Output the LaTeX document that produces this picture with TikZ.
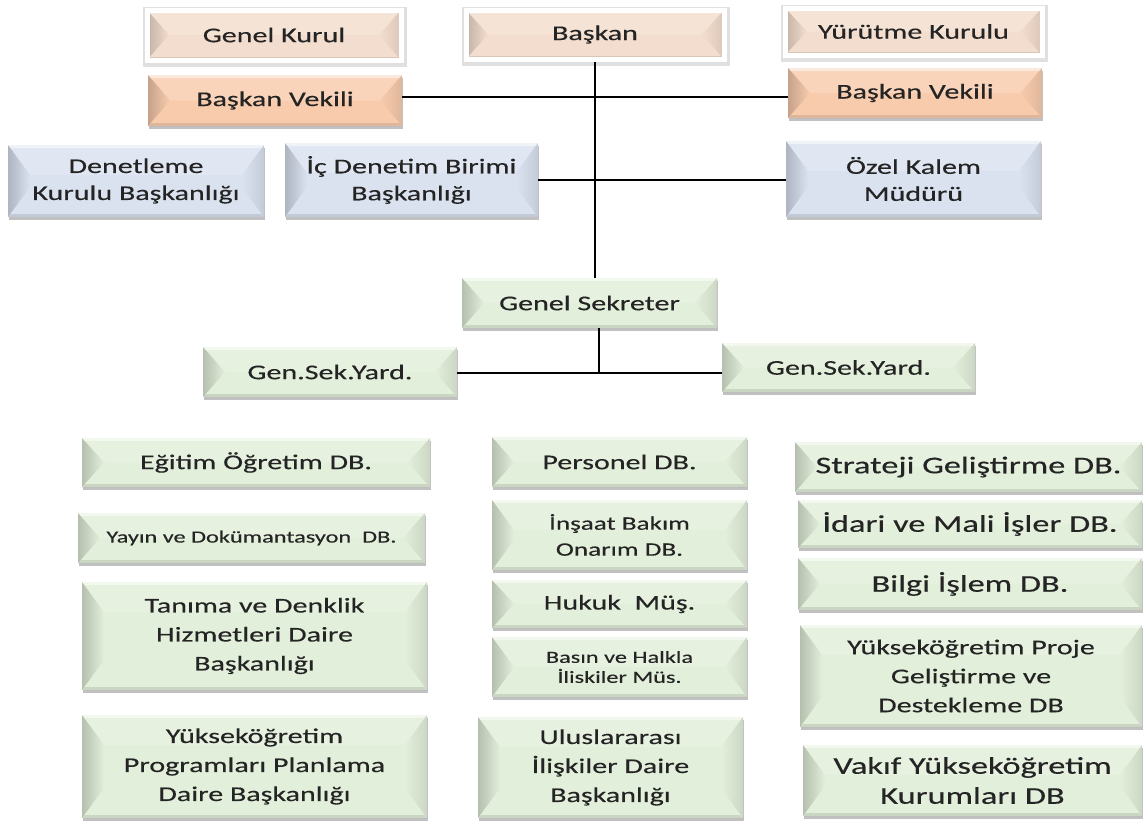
\documentclass[tikz,border=0pt]{standalone}
\usepackage{fontspec}
\setmainfont{Carlito}[FakeStretch=1.43,FakeBold=0.3]
\usetikzlibrary{shadows,calc}
\definecolor{cpeach}{HTML}{F3DDCE}
\definecolor{corange}{HTML}{F8CBAD}
\definecolor{cblue}{HTML}{DAE2F0}
\definecolor{cgreen}{HTML}{E2EFDA}
\definecolor{txt}{HTML}{242424}
\newcommand\bevelfx[1]{%
 \pgfpointanchor{path picture bounding box}{south west}\pgfgetlastxy\bxa\bya
 \pgfpointanchor{path picture bounding box}{north east}\pgfgetlastxy\bxb\byb
 \pgfmathsetlengthmacro\bdy{min((\byb-\bya)/2,30pt)}%
 \fill[white,opacity=.18] (\bxa,\byb) -- (\bxb,\byb) -- (\bxb-22pt,\byb-\bdy) -- (\bxa+22pt,\byb-\bdy) -- cycle;
 \shade[left color=#1!80!black, right color=#1] (\bxa,\bya) -- (\bxa+22pt,\bya+\bdy) -- (\bxa+22pt,\byb-\bdy) -- (\bxa,\byb) -- cycle;
 \shade[left color=#1, right color=#1!90!black] (\bxb,\bya) -- (\bxb-22pt,\bya+\bdy) -- (\bxb-22pt,\byb-\bdy) -- (\bxb,\byb) -- cycle;
 \fill[black,opacity=.10] (\bxa,\bya) -- (\bxb,\bya) -- (\bxb-3pt,\bya+3pt) -- (\bxa+3pt,\bya+3pt) -- cycle;
 \fill[white,opacity=.5] (\bxa,\byb) -- (\bxb,\byb) -- (\bxb-3pt,\byb-3pt) -- (\bxa+3pt,\byb-3pt) -- cycle;
}
\tikzset{
 box/.style={rectangle, inner sep=0pt, align=center, text=txt,
   font=\fontsize{21}{29}\selectfont},
 bev/.style={fill=#1, path picture={\bevelfx{#1}}},
 shad/.style={drop shadow={shadow xshift=1.2pt, shadow yshift=-2.6pt, opacity=.3, fill=black!80}},
 framebox/.style={box, bev=cpeach, draw=white, line width=5pt,
   preaction={draw=black, draw opacity=.12, line width=10pt,
     transform canvas={xshift=1pt,yshift=-1.5pt}}},
 orbox/.style={box, bev=corange, shad},
 blbox/.style={box, bev=cblue, shad},
 grbox/.style={box, bev=cgreen, shad},
 conn/.style={draw=black, line width=1.3pt},
 big/.style={font=\fontsize{24}{30}\selectfont},
 small/.style={font=\fontsize{17}{20}\selectfont},
 mid/.style={font=\fontsize{19}{26}\selectfont},
 two/.style={font=\fontsize{21}{27}\selectfont},
}
\newcommand\bx[7]{%
 \pgfmathsetmacro\bw{#5-#3}\pgfmathsetmacro\bh{#6-#4}%
 \pgfmathsetmacro\bcx{(#3+#5)/2}\pgfmathsetmacro\bcy{(#4+#6)/2}%
 \node[#2, minimum width=\bw pt, minimum height=\bh pt] (#1) at (\bcx,\bcy) {#7};}
\begin{document}
\begin{tikzpicture}[x=1pt,y=-1pt]
\useasboundingbox (0,0) rectangle (1144,825);
\fill[white] (0,0) rectangle (1144,825);
% top row
\bx{gk}{framebox}{147}{10}{401}{60}{Genel Kurul}
\bx{bsk}{framebox}{466}{10}{724}{59}{Başkan}
\bx{yk}{framebox}{785}{8}{1042}{55}{Yürütme Kurulu}
% vice presidents
\bx{bvl}{orbox}{148}{75}{402}{126}{Başkan Vekili}
\bx{bvr}{orbox}{788}{68}{1042}{118}{Başkan Vekili}
% blue row
\bx{den}{blbox,two}{8}{145}{264}{217}{Denetleme\\Kurulu Başkanlığı}
\bx{ic}{blbox,two}{285}{143}{538}{217}{İç Denetim Birimi\\Başkanlığı}
\bx{ozel}{blbox,two}{786}{141}{1041}{217}{Özel Kalem\\Müdürü}
% secretary
\bx{gs}{grbox}{462}{278}{717}{328}{Genel Sekreter}
\bx{gsyl}{grbox}{203}{347}{457}{397}{Gen.Sek.Yard.}
\bx{gsyr}{grbox}{722}{343}{975}{392}{Gen.Sek.Yard.}
% left column
\bx{egt}{grbox}{82}{438}{430}{487}{Eğitim Öğretim DB.}
\bx{yay}{grbox,small}{78}{513}{425}{563}{Yayın ve Dokümantasyon\ \ DB.}
\bx{tan}{grbox}{82}{582}{427}{690}{Tanıma ve Denklik\\Hizmetleri Daire\\Başkanlığı}
\bx{ykp}{grbox}{82}{715}{427}{818}{Yükseköğretim\\Programları Planlama\\Daire Başkanlığı}
% middle column
\bx{per}{grbox}{492}{437}{747}{487}{Personel DB.}
\bx{ins}{grbox,mid}{492}{500}{747}{570}{İnşaat Bakım\\Onarım DB.}
\bx{huk}{grbox}{492}{580}{747}{628}{Hukuk\ \ Müş.}
\bx{bas}{grbox,small}{492}{637}{747}{697}{Basın ve Halkla\\İliskiler Müs.}
\bx{ulu}{grbox}{478}{717}{743}{818}{Uluslararası\\İlişkiler Daire\\Başkanlığı}
% right column
\bx{str}{grbox,big}{795}{442}{1142}{492}{Strateji Geliştirme DB.}
\bx{ida}{grbox,big}{798}{500}{1142}{548}{İdari ve Mali İşler DB.}
\bx{bil}{grbox,big}{798}{558}{1142}{610}{Bilgi İşlem DB.}
\bx{ypr}{grbox}{800}{625}{1142}{727}{Yükseköğretim Proje\\Geliştirme ve\\Destekleme DB}
\bx{vak}{grbox,big}{803}{745}{1142}{816}{Vakıf Yükseköğretim\\Kurumları DB}
% connectors
\coordinate (j1) at (596,97);
\coordinate (j3) at (599,373);
\draw[conn] (bsk.south) -- (bsk.south |- gs.north);
\draw[conn] (bvl.east |- j1) -- (bvr.west |- j1);
\draw[conn] (ic.east) -- (ic.east -| ozel.west);
\draw[conn] (gs.south -| j3) -- (j3);
\draw[conn] (gsyl.east |- j3) -- (gsyr.west |- j3);
\end{tikzpicture}
\end{document}
